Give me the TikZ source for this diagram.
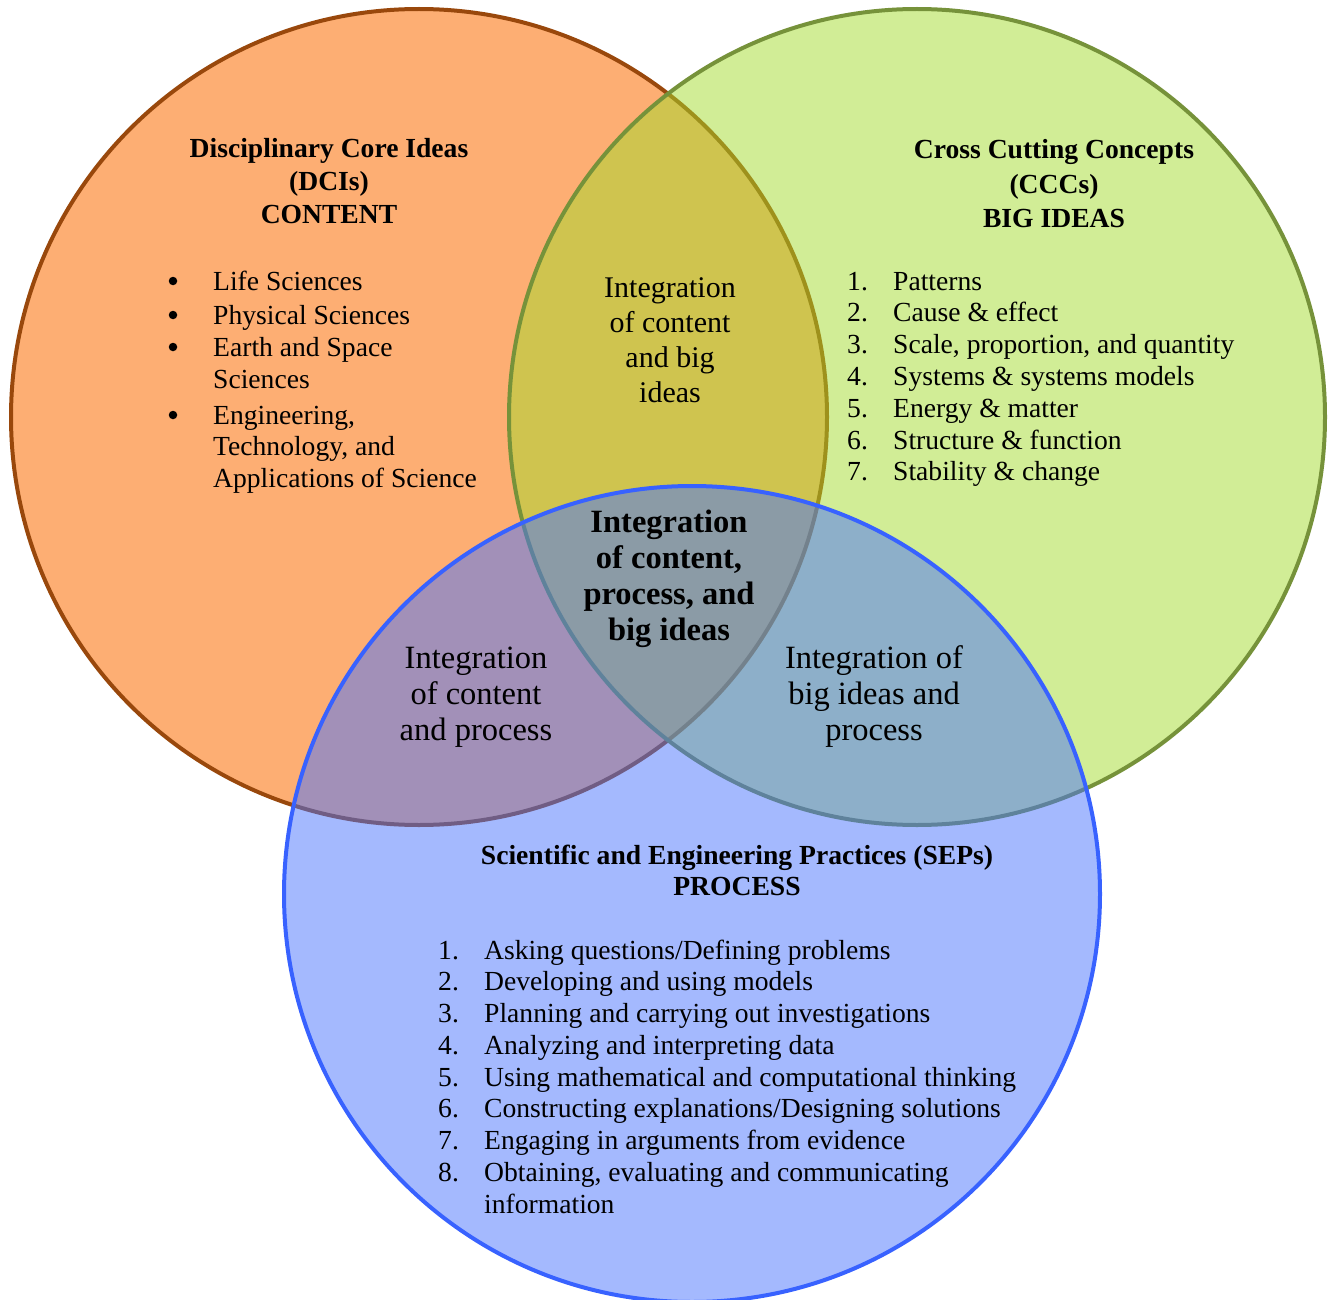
\documentclass[tikz,border=0pt]{standalone}
\usepackage{fontspec}
\setmainfont{Liberation Serif}

\definecolor{dciFill}{RGB}{253,174,115}
\definecolor{dciLine}{RGB}{153,72,12}
\definecolor{cccFill}{RGB}{163,219,45}
\definecolor{cccLine}{RGB}{118,146,58}
\definecolor{sepFill}{RGB}{73,115,253}
\definecolor{sepLine}{RGB}{56,98,255}

\tikzset{
  setcircle/.style={circle, minimum size=816pt, inner sep=0pt, line width=4pt},
  dciset/.style={setcircle, fill=dciFill, draw=dciLine},
  cccset/.style={setcircle, fill=cccFill, fill opacity=0.5, draw=cccLine},
  sepset/.style={setcircle, fill=sepFill, fill opacity=0.5, draw=sepLine},
  txt/.style={inner sep=0pt, font=\fontsize{27.6}{32}\selectfont},
  bul/.style={circle, fill=black, inner sep=0pt, minimum size=8.5pt},
  hd/.style={inner sep=0pt, font=\bfseries\fontsize{27.6}{32}\selectfont},
  lenstxt/.style={inner sep=0pt, font=\fontsize{30}{35}\selectfont},
  pairtxt/.style={inner sep=0pt, font=\fontsize{32.5}{36}\selectfont},
  coretxt/.style={inner sep=0pt, font=\bfseries\fontsize{32.5}{36}\selectfont},
}

\begin{document}
\begin{tikzpicture}[x=1pt, y=-1pt]
  \useasboundingbox (0,0) rectangle (1328,1300);

  % the three sets
  \node[dciset] (dci) at (419,417) {};
  \node[cccset] (ccc) at (917,417) {};
  \node[sepset] (sep) at (692,894) {};

  % Disciplinary Core Ideas
  \foreach \t [count=\i] in {Disciplinary Core Ideas, (DCIs), CONTENT}
    \node[hd, anchor=base] (dcihead-\i) at (329,{158+33*(\i-1)}) {\t};
  \foreach \t/\y [count=\i] in {Life Sciences/290, Physical Sciences/324,
      Earth and Space/356, Sciences/388, {Engineering,}/424,
      {Technology, and}/455, Applications of Science/487}
    \node[txt, anchor=base west] (dciitem-\i) at (213,\y) {\t};
  \foreach \y [count=\i] in {290, 324, 356, 424}
    \node[bul] (dcibullet-\i) at (173,{\y-9}) {};

  % Cross Cutting Concepts
  \node[hd, anchor=base] (ccchead-1) at (1054,159) {Cross Cutting Concepts};
  \node[hd, anchor=base] (ccchead-2) at (1054,194) {(CCCs)};
  \node[hd, anchor=base] (ccchead-3) at (1054,228) {BIG IDEAS};
  \foreach \t [count=\i] in {Patterns, Cause \& effect,
      {Scale, proportion, and quantity}, Systems \& systems models,
      Energy \& matter, Structure \& function, Stability \& change} {
    \node[txt, anchor=base west] (cccnum-\i) at (847,{290+31.8*(\i-1)}) {\i.};
    \node[txt, anchor=base west] (cccitem-\i) at (893,{290+31.8*(\i-1)}) {\t};
  }

  % Scientific and Engineering Practices
  \node[hd, anchor=base] (sephead-1) at (737,864) {Scientific and Engineering Practices (SEPs)};
  \node[hd, anchor=base] (sephead-2) at (737,895) {PROCESS};
  \foreach \t [count=\i] in {Asking questions/Defining problems,
      Developing and using models, Planning and carrying out investigations,
      Analyzing and interpreting data, Using mathematical and computational thinking,
      Constructing explanations/Designing solutions, Engaging in arguments from evidence,
      Obtaining{,} evaluating and communicating} {
    \node[txt, anchor=base west] (sepnum-\i) at (438,{959+31.75*(\i-1)}) {\i.};
    \node[txt, anchor=base west] (sepitem-\i) at (484,{959+31.75*(\i-1)}) {\t};
  }
  \node[txt, anchor=base west] (sepitem-9) at (484,{959+31.75*8}) {information};

  % overlaps
  \foreach \t [count=\i] in {Integration, of content, and big, ideas}
    \node[lenstxt, anchor=base] (dciccc-\i) at (670,{297+35*(\i-1)}) {\t};
  \foreach \t [count=\i] in {Integration, {of content,}, {process, and}, big ideas}
    \node[coretxt, anchor=base] (core-\i) at (669,{532+36*(\i-1)}) {\t};
  \foreach \t [count=\i] in {Integration, of content, and process}
    \node[pairtxt, anchor=base] (dcisep-\i) at (476,{668+36*(\i-1)}) {\t};
  \foreach \t [count=\i] in {Integration of, big ideas and, process}
    \node[pairtxt, anchor=base] (cccsep-\i) at (874,{668+36*(\i-1)}) {\t};
\end{tikzpicture}
\end{document}
